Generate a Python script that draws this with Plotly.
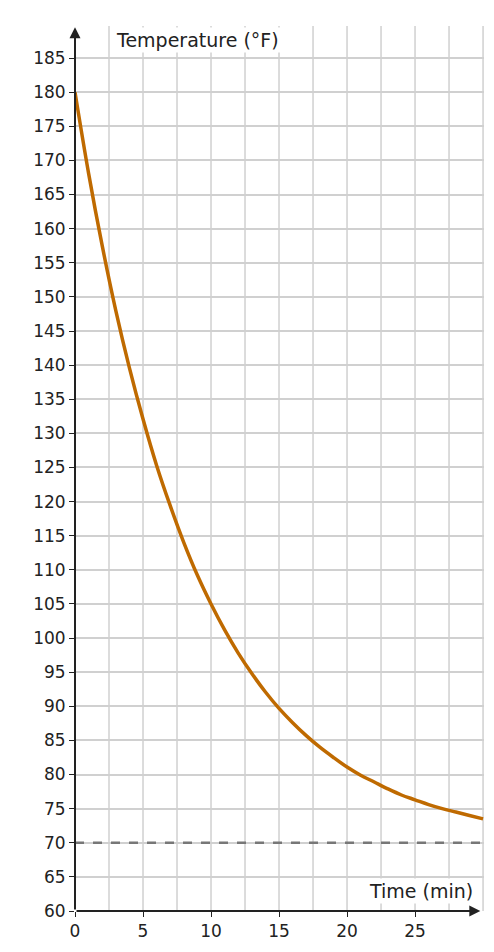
import plotly.graph_objects as go

time_min = list(range(31))
temp_f = [180, 168.1, 157.5, 148.0, 139.6, 132.1, 125.3, 119.4, 114.0, 109.2, 105.0,
          101.2, 97.8, 94.8, 92.1, 89.7, 87.6, 85.7, 84.0, 82.5, 81.1,
          79.9, 78.9, 77.9, 77.0, 76.3, 75.6, 75.0, 74.5, 74.0, 73.5]
ambient = 70
x_ticks = [0, 5, 10, 15, 20, 25]
y_ticks = list(range(60, 190, 5))

fig = go.Figure()
fig.add_trace(go.Scatter(x=[0, 30.1], y=[ambient, ambient], mode="lines",
                         line=dict(color="#777777", width=2.5, dash="dash"), hoverinfo="skip"))
fig.add_trace(go.Scatter(x=time_min, y=temp_f, mode="lines", line_shape="spline",
                         line=dict(color="#bf6a00", width=3.5)))

font = dict(family="DejaVu Sans", size=17, color="#222222")
fig.update_layout(
    width=494, height=952, showlegend=False,
    margin=dict(l=67, r=18, t=18, b=49, autoexpand=False),
    plot_bgcolor="white", paper_bgcolor="white", font=font,
    xaxis=dict(range=[0, 30.07], tickvals=x_ticks, showgrid=False, zeroline=False, automargin=False,
               showline=False, ticks="outside", ticklen=5, tickcolor="#222"),
    yaxis=dict(range=[60, 189.7], tickvals=y_ticks, gridcolor="#d0d0d0", gridwidth=1.5, automargin=False,
               zeroline=False, showline=False, ticks="outside", ticklen=5, tickcolor="#222"),
)
for i in range(1, 13):
    fig.add_shape(type="line", x0=i * 2.5, x1=i * 2.5, y0=0, y1=1, yref="paper",
                  line=dict(color="#d0d0d0", width=1.5), layer="below")
fig.add_annotation(x=29.8, y=60, ax=0, ay=60, axref="x", ayref="y", xref="x", yref="y",
                   showarrow=True, arrowhead=2, arrowsize=1.1, arrowwidth=2, arrowcolor="#222", text="")
fig.add_annotation(x=0, y=189.5, ax=0, ay=60, axref="x", ayref="y", xref="x", yref="y",
                   showarrow=True, arrowhead=2, arrowsize=1.1, arrowwidth=2, arrowcolor="#222", text="")
fig.add_annotation(x=2.9, y=189.5, xref="x", yref="y", text="Temperature (°F)", showarrow=False,
                   xanchor="left", yanchor="top", font=dict(family="DejaVu Sans", size=19, color="#222"),
                   bgcolor="white")
fig.add_annotation(x=29.4, y=61, xref="x", yref="y", text="Time (min)", showarrow=False,
                   xanchor="right", yanchor="bottom", font=dict(family="DejaVu Sans", size=19, color="#222"),
                   bgcolor="white")
fig.write_html("out.html")
